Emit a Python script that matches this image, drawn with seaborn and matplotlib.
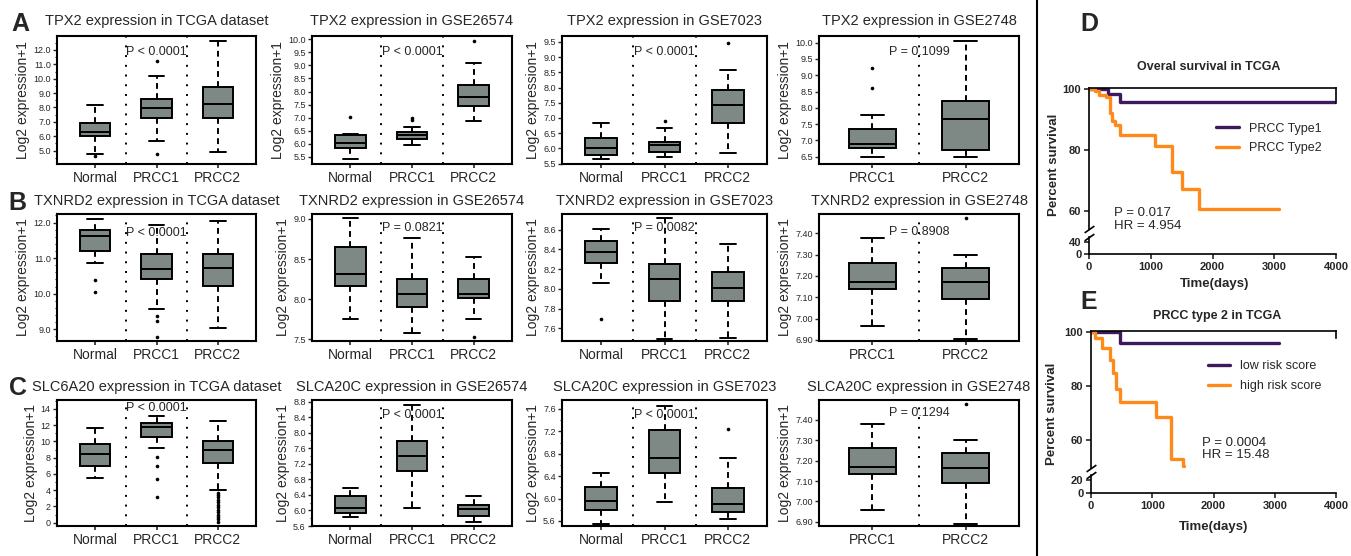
import numpy as np
import pandas as pd
import matplotlib
matplotlib.use("Agg")
import matplotlib.pyplot as plt
from matplotlib.lines import Line2D
from matplotlib.ticker import MultipleLocator, FormatStrFormatter
import seaborn as sns

sns.set_style("ticks")
plt.rcParams['font.family'] = ['Liberation Sans', 'DejaVu Sans']

GROUPS3 = ["Normal", "PRCC1", "PRCC2"]
GROUPS2 = ["PRCC1", "PRCC2"]

# box values per group: low whisker, Q1, median, Q3, high whisker
tpx2_tcga = [[4.75, 6.00, 6.30, 6.95, 8.15], [5.69, 7.24, 7.94, 8.57, 10.19], [4.92, 7.24, 8.22, 9.45, 12.65]]
tpx2_tcga_out = [[4.6], [11.2, 4.8], []]
tpx2_gse26574 = [[5.43, 5.84, 6.03, 6.33, 6.38], [5.93, 6.16, 6.33, 6.44, 6.65], [6.88, 7.45, 7.78, 8.25, 9.08]]
tpx2_gse26574_out = [[7.03], [6.97, 6.92], [9.93]]
tpx2_gse7023 = [[5.65, 5.78, 6.03, 6.35, 6.82], [5.71, 5.89, 6.11, 6.22, 6.66], [5.86, 6.84, 7.44, 7.91, 8.59]]
tpx2_gse7023_out = [[], [6.91], [9.45]]
tpx2_gse2748 = [[6.50, 6.76, 6.89, 7.35, 7.78], [6.50, 6.71, 7.66, 8.21, 10.05]]
tpx2_gse2748_out = [[9.23, 8.62], []]

txnrd2_tcga = [[10.86, 11.21, 11.61, 11.78, 12.09], [9.56, 10.42, 10.70, 11.12, 11.93], [9.03, 10.22, 10.73, 11.11, 12.05]]
txnrd2_tcga_out = [[10.39, 10.06], [9.36, 9.24, 8.78], []]
txnrd2_gse26574 = [[7.75, 8.16, 8.31, 8.65, 9.01], [7.58, 7.90, 8.07, 8.25, 8.76], [7.75, 8.02, 8.07, 8.25, 8.53]]
txnrd2_gse26574_out = [[], [], [7.53]]
txnrd2_gse7023 = [[8.06, 8.26, 8.37, 8.49, 8.61], [7.49, 7.88, 8.10, 8.25, 8.72], [7.50, 7.88, 8.01, 8.17, 8.46]]
txnrd2_gse7023_out = [[7.69], [], []]
txnrd2_gse2748 = [[6.965, 7.14, 7.17, 7.26, 7.377], [6.905, 7.09, 7.17, 7.235, 7.30]]
txnrd2_gse2748_out = [[], [7.47]]

slc6a20_tcga = [[5.54, 7.02, 8.46, 9.65, 11.62], [9.16, 10.59, 11.82, 12.32, 13.14], [4.02, 7.31, 8.95, 10.02, 12.52]]
slc6a20_tcga_out = [[], [8.13, 6.98, 5.34, 3.12],
                    [3.7, 3.4, 3.1, 2.8, 2.5, 2.2, 1.9, 1.6, 1.3, 1.0, 0.7, 0.4, 0.1]]
slca20c_gse26574 = [[5.83, 5.93, 6.07, 6.38, 6.59], [6.07, 7.01, 7.40, 7.79, 8.72], [5.70, 5.87, 6.03, 6.15, 6.36]]
slca20c_gse26574_out = [[], [], []]
slca20c_gse7023 = [[5.55, 5.80, 5.96, 6.20, 6.46], [5.93, 6.45, 6.72, 7.22, 7.66], [5.63, 5.76, 5.91, 6.18, 6.73]]
slca20c_gse7023_out = [[], [], [7.24]]
slca20c_gse2748 = [[6.956, 7.134, 7.169, 7.26, 7.379], [6.892, 7.089, 7.166, 7.239, 7.30]]
slca20c_gse2748_out = [[], [7.476]]

# Kaplan-Meier steps
d_type1_time = [0, 308, 497, 4000]
d_type1_surv = [100, 98.3, 95.9, 95.9]
d_type2_time = [0, 90, 170, 280, 335, 370, 420, 497, 1065, 1351, 1514, 1784, 3081]
d_type2_surv = [100, 99.3, 98.2, 97.5, 92.0, 89.5, 88.3, 84.9, 81.3, 72.7, 67.2, 60.5, 60.5]
e_low_time = [0, 473, 3070]
e_low_surv = [100, 96.2, 96.2]
e_high_time = [0, 65, 174, 310, 364, 402, 473, 1060, 1299, 1495, 1516]
e_high_surv = [100, 97.8, 94.1, 89.8, 84.8, 78.9, 74.3, 68.5, 53.0, 50.5, 50.5]

BOX_GRAY = "#7e8985"
PURPLE = "#3d1a5b"
ORANGE = "#ff8a1c"

W, H = 1351, 556
fig = plt.figure(figsize=(W / 100, H / 100), dpi=100)


def px_axes(x0, x1, y0, y1):
    return fig.add_axes([x0 / W, 1 - y1 / H, (x1 - x0) / W, (y1 - y0) / H])


def fig_text(x, y, s, **kw):
    fig.text(x / W, 1 - y / H, s, **kw)


COLS = [(57, 256), (312, 512), (562, 767), (819, 1019)]
ROWS = [(36, 164), (214, 341), (400, 526)]
TITLE_PAD = [7.6, 6.2, 6.8]

panels = [
    (0, 0, "TPX2 expression in TCGA dataset", tpx2_tcga, tpx2_tcga_out, GROUPS3, "P < 0.0001", 0.875, (4.07, 12.97), 1.0, 0.5, "%.1f"),
    (0, 1, "TPX2 expression in GSE26574", tpx2_gse26574, tpx2_gse26574_out, GROUPS3, "P < 0.0001", 0.875, (5.22, 10.13), 0.5, None, "%.1f"),
    (0, 2, "TPX2 expression in GSE7023", tpx2_gse7023, tpx2_gse7023_out, GROUPS3, "P < 0.0001", 0.875, (5.49, 9.69), 0.5, None, "%.1f"),
    (0, 3, "TPX2 expression in GSE2748", tpx2_gse2748, tpx2_gse2748_out, GROUPS2, "P = 0.1099", 0.875, (6.28, 10.2), 0.5, None, "%.1f"),
    (1, 0, "TXNRD2 expression in TCGA dataset", txnrd2_tcga, txnrd2_tcga_out, GROUPS3, "P < 0.0001", 0.85, (8.67, 12.24), 1.0, 0.2, "%.1f"),
    (1, 1, "TXNRD2 expression in GSE26574", txnrd2_gse26574, txnrd2_gse26574_out, GROUPS3, "P = 0.0821", 0.89, (7.48, 9.06), 0.5, None, "%.1f"),
    (1, 2, "TXNRD2 expression in GSE7023", txnrd2_gse7023, txnrd2_gse7023_out, GROUPS3, "P = 0.0082", 0.89, (7.47, 8.76), 0.2, None, "%.1f"),
    (1, 3, "TXNRD2 expression in GSE2748", txnrd2_gse2748, txnrd2_gse2748_out, GROUPS2, "P = 0.8908", 0.86, (6.895, 7.49), 0.1, None, "%.2f"),
    (2, 0, "SLC6A20 expression in TCGA dataset", slc6a20_tcga, slc6a20_tcga_out, GROUPS3, "P < 0.0001", 0.94, (-0.41, 15.1), 2, 1, "%d"),
    (2, 1, "SLCA20C expression in GSE26574", slca20c_gse26574, slca20c_gse26574_out, GROUPS3, "P < 0.0001", 0.88, (5.60, 8.84), 0.4, 0.2, "%.1f"),
    (2, 2, "SLCA20C expression in GSE7023", slca20c_gse7023, slca20c_gse7023_out, GROUPS3, "P < 0.0001", 0.88, (5.51, 7.76), 0.4, 0.2, "%.1f"),
    (2, 3, "SLCA20C expression in GSE2748", slca20c_gse2748, slca20c_gse2748_out, GROUPS2, "P = 0.1294", 0.90, (6.88, 7.497), 0.1, None, "%.2f"),
]

for row, col, title, stats, outliers, groups, ptext, py, ylim, major, minor, fmt in panels:
    ax = px_axes(COLS[col][0], COLS[col][1], ROWS[row][0], ROWS[row][1])
    box_df = pd.DataFrame({"group": np.repeat(groups, 5), "value": np.concatenate(stats)})
    sns.boxplot(data=box_df, x="group", y="value", order=groups, ax=ax, whis=(0, 100),
                width=0.5, color=BOX_GRAY, saturation=1, linecolor="black", linewidth=1.4,
                whiskerprops={"linestyle": (0, (3, 2.2))})
    pts = [(g, v) for g, vals in zip(groups, outliers) for v in vals]
    if pts:
        out_df = pd.DataFrame(pts, columns=["group", "value"])
        sns.stripplot(data=out_df, x="group", y="value", order=groups, ax=ax,
                      jitter=False, color="black", size=2.6)
    n = len(groups)
    for k in range(n - 1):
        ax.axvline(k + 0.5, color="black", lw=1.4, ls=(0, (1, 4)), zorder=0)
    ax.set_xlim(-0.62, 2.62) if n == 3 else ax.set_xlim(-0.57, 1.57)
    ax.set_ylim(*ylim)
    ax.yaxis.set_major_locator(MultipleLocator(major))
    ax.yaxis.set_major_formatter(FormatStrFormatter(fmt))
    if minor:
        ax.yaxis.set_minor_locator(MultipleLocator(minor))
    ax.tick_params(axis="y", which="major", labelsize=6.5, length=3, width=1, pad=1.5)
    ax.tick_params(axis="y", which="minor", length=1.8, width=0.8)
    ax.tick_params(axis="x", labelsize=10, length=3, width=1.2, pad=2)
    for s in ax.spines.values():
        s.set_linewidth(1.5)
        s.set_color("black")
    ax.set_xlabel("")
    ax.set_ylabel("Log2 expression+1", fontsize=10, labelpad=2)
    ax.set_title(title, fontsize=10.5, pad=TITLE_PAD[row])
    ax.text(1.0 if n == 3 else 0.5, py, ptext, transform=ax.get_xaxis_transform(),
            ha="center", va="center", fontsize=9)

for letter, (x, y) in zip("ABC", [(20, 24), (17, 203), (18, 388)]):
    fig_text(x, y, letter, fontsize=18, fontweight="bold", ha="center", va="center")


def survival_panel(up_box, lo_box, up_lim, lo_lim, lo_ticks, right_lo, curves, leg_anchor, stat, stat_pos):
    ax_up = px_axes(*up_box)
    ax_lo = px_axes(*lo_box)
    for t, s, c, lab in curves:
        sns.lineplot(x=t, y=s, ax=ax_up, drawstyle="steps-post", color=c, lw=2.4,
                     label=lab, errorbar=None)
    for ax in (ax_up, ax_lo):
        ax.set_xlim(0, 4000)
        ax.set_xlabel("")
        ax.set_ylabel("")
        for s in ax.spines.values():
            s.set_linewidth(1.2)
            s.set_color("black")
        ax.tick_params(axis="both", length=3.5, width=1.2, labelsize=8, pad=2)
    ax_up.set_ylim(*up_lim)
    ax_up.set_yticks([60, 80, 100])
    ax_up.spines["bottom"].set_visible(False)
    ax_up.spines["right"].set_bounds(right_lo, up_lim[1])
    ax_up.tick_params(axis="x", bottom=False, labelbottom=False)
    ax_lo.set_ylim(*lo_lim)
    ax_lo.set_yticks(lo_ticks)
    ax_lo.set_xticks([0, 1000, 2000, 3000, 4000])
    ax_lo.spines["top"].set_visible(False)
    ax_lo.spines["right"].set_visible(False)
    for lab in ax_lo.get_xticklabels() + ax_lo.get_yticklabels() + ax_up.get_yticklabels():
        lab.set_fontweight("bold")
    kw = dict(marker=[(-1, -0.7), (1, 0.7)], markersize=7, linestyle="none",
              color="k", mec="k", mew=1.2, clip_on=False)
    ax_up.plot([0], [0], transform=ax_up.transAxes, **kw)
    ax_lo.plot([0], [1], transform=ax_lo.transAxes, **kw)
    ax_up.legend(frameon=False, loc="center left", bbox_to_anchor=leg_anchor, fontsize=9,
                 handlelength=1.8, labelspacing=0.6)
    ax_up.text(stat_pos[0], stat_pos[1], stat, transform=ax_up.transAxes,
               ha="left", va="center", fontsize=9.5, linespacing=1.05)


survival_panel((1089, 1336, 87.5, 229.3), (1089, 1336, 237, 254.5), (54, 100.5), (0, 58), [0, 40], 95.5,
               [(d_type1_time, d_type1_surv, PURPLE, "PRCC Type1"),
                (d_type2_time, d_type2_surv, ORANGE, "PRCC Type2")],
               (0.47, 0.64), "P = 0.017\nHR = 4.954", (0.10, 0.07))
survival_panel((1091, 1336, 331, 468), (1091, 1336, 475, 493.3), (49.7, 100.5), (0, 27.4), [0, 20], 98,
               [(e_low_time, e_low_surv, PURPLE, "low risk score"),
                (e_high_time, e_high_surv, ORANGE, "high risk score")],
               (0.43, 0.67), "P = 0.0004\nHR = 15.48", (0.453, 0.14))

fig_text(1209, 67, "Overal survival in TCGA", fontsize=9, fontweight="bold", ha="center", va="center")
fig_text(1217, 316, "PRCC type 2 in TCGA", fontsize=9, fontweight="bold", ha="center", va="center")
fig_text(1215, 284, "Time(days)", fontsize=9.5, fontweight="bold", ha="center", va="center")
fig_text(1214, 527, "Time(days)", fontsize=9.5, fontweight="bold", ha="center", va="center")
fig_text(1054, 165, "Percent survival", fontsize=9.5, fontweight="bold", ha="center", va="center", rotation=90)
fig_text(1052, 414, "Percent survival", fontsize=9.5, fontweight="bold", ha="center", va="center", rotation=90)
fig_text(1089, 24, "D", fontsize=18, fontweight="bold", ha="center", va="center")
fig_text(1089, 302, "E", fontsize=18, fontweight="bold", ha="center", va="center")

fig.add_artist(Line2D([1037 / W, 1037 / W], [0, 1], color="black", lw=1.5))

fig.savefig("out.png", dpi=100)
